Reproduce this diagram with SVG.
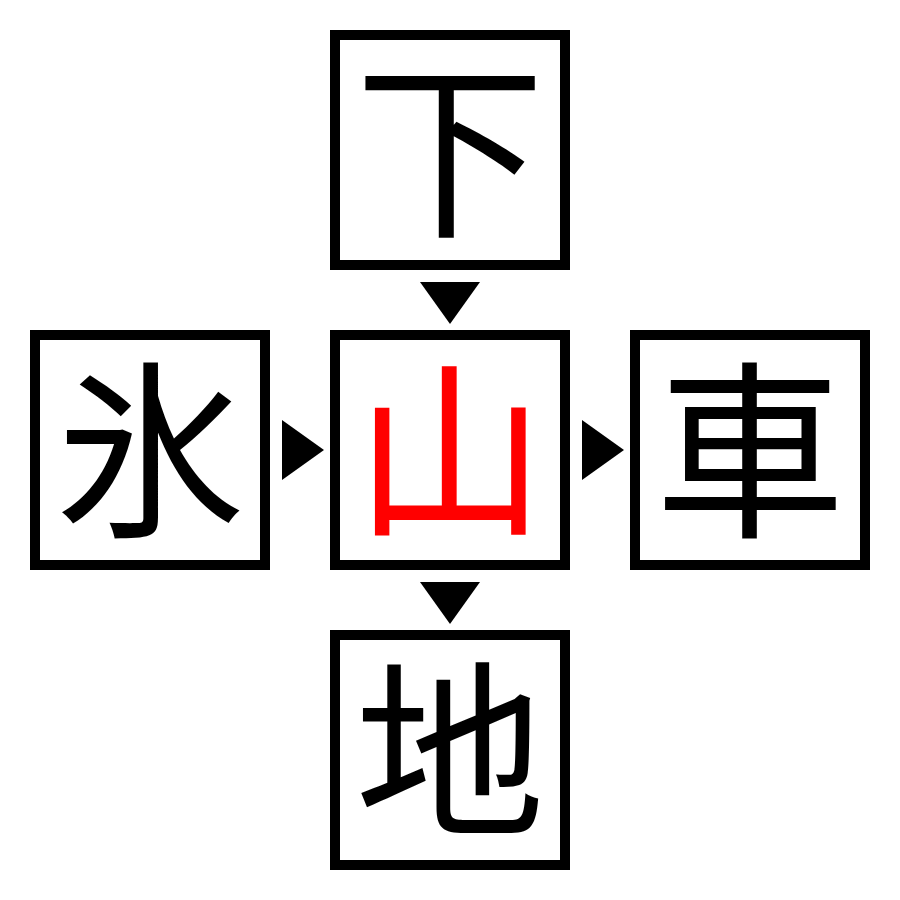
<svg xmlns="http://www.w3.org/2000/svg" width="900" height="900" viewBox="0 0 900 900">
<style>
.box{fill:#fff;stroke:#000;stroke-width:10}
.ch{font-family:"Noto Sans CJK JP","Noto Sans CJK SC",sans-serif;font-size:190px;text-anchor:middle;fill:#000}
.hl{fill:#f00}
.arr{fill:#000}
</style>
<rect width="900" height="900" fill="#fff"/>
<g id="connectors">
<polygon class="arr" points="420,282 480,282 450,324"/>
<polygon class="arr" points="420,582 480,582 450,624"/>
<polygon class="arr" points="282,420 282,480 324,450"/>
<polygon class="arr" points="582,420 582,480 624,450"/>
</g>
<g id="node-top"><rect class="box" x="335" y="35" width="230" height="230"/><text class="ch" x="450" y="222">下</text></g>
<g id="node-left"><rect class="box" x="35" y="335" width="230" height="230"/><text class="ch" x="150" y="522">氷</text></g>
<g id="node-center"><rect class="box" x="335" y="335" width="230" height="230"/><text class="ch hl" x="450" y="522">山</text></g>
<g id="node-right"><rect class="box" x="635" y="335" width="230" height="230"/><text class="ch" x="750" y="522">車</text></g>
<g id="node-bottom"><rect class="box" x="335" y="635" width="230" height="230"/><text class="ch" x="450" y="822">地</text></g>
</svg>
